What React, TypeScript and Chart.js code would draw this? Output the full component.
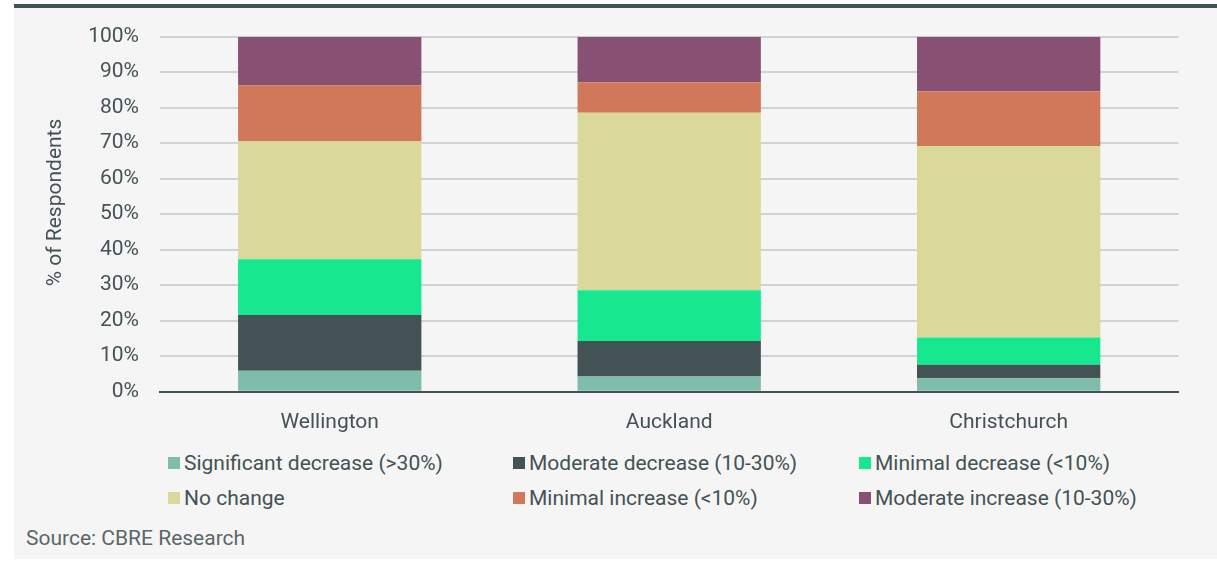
import React, { useEffect, useRef } from "react";
import { Chart, registerables } from "chart.js";

Chart.register(...registerables);

// Survey results: expected change, share of respondents per city (%)
const cities = ["Wellington", "Auckland", "Christchurch"];

const seriesNames = [
  "Significant decrease (>30%)",
  "Moderate decrease (10-30%)",
  "Minimal decrease (<10%)",
  "No change",
  "Minimal increase (<10%)",
  "Moderate increase (10-30%)",
];

const significantDecrease = [5.9, 4.3, 3.8];
const moderateDecrease = [15.7, 10.0, 3.8];
const minimalDecrease = [15.7, 14.3, 7.7];
const noChange = [33.3, 50.0, 53.9];
const minimalIncrease = [15.7, 8.6, 15.4];
const moderateIncrease = [13.7, 12.8, 15.4];

const seriesColors = ["#80bcaa", "#435254", "#17e88f", "#dbd99a", "#d2785a", "#885073"];

const yTickValues = [0, 10, 20, 30, 40, 50, 60, 70, 80, 90, 100];

const yAxisTitle = "% of Respondents";
const sourceNote = "Source: CBRE Research";

const FONT = "Roboto, 'Noto Sans', sans-serif";
const FONT_SIZE = 21;
const TEXT = "#435254";

// Rotated y-axis caption drawn beside the tick labels
const axisCaption = {
  id: "axisCaption",
  afterDraw(chart: Chart) {
    const { ctx } = chart;
    ctx.save();
    ctx.translate(56, 202.5);
    ctx.rotate(-Math.PI / 2);
    ctx.font = `${FONT_SIZE}px ${FONT}`;
    ctx.fillStyle = TEXT;
    ctx.textAlign = "center";
    ctx.textBaseline = "middle";
    ctx.fillText(yAxisTitle, 0, 0);
    ctx.restore();
  },
};

export default function App() {
  const canvasRef = useRef<HTMLCanvasElement | null>(null);

  useEffect(() => {
    if (!canvasRef.current) return;
    const values = [
      significantDecrease,
      moderateDecrease,
      minimalDecrease,
      noChange,
      minimalIncrease,
      moderateIncrease,
    ];
    const chart = new Chart(canvasRef.current, {
      type: "bar",
      data: {
        labels: cities,
        datasets: values.map((data, i) => ({
          label: seriesNames[i],
          data,
          backgroundColor: seriesColors[i],
          borderWidth: 0,
          barPercentage: 0.54,
          categoryPercentage: 1,
        })),
      },
      options: {
        animation: false,
        responsive: false,
        maintainAspectRatio: false,
        layout: { padding: { left: 0, right: 38.6, top: 36.7, bottom: 0 } },
        plugins: {
          legend: { display: false },
          tooltip: { enabled: false },
          title: { display: false },
        },
        scales: {
          x: {
            stacked: true,
            grid: { display: false },
            border: { display: true, color: "#435254", width: 2 },
            ticks: {
              font: { family: FONT, size: FONT_SIZE },
              color: TEXT,
              padding: 10,
            },
            afterFit: (s: any) => {
              s.height = 48.3;
            },
          },
          y: {
            stacked: true,
            min: 0,
            max: 100,
            afterBuildTicks: (s: any) => {
              s.ticks = yTickValues.map((v) => ({ value: v }));
            },
            grid: { color: "#cdd4d5", lineWidth: 2, drawTicks: false },
            border: { display: false },
            ticks: {
              font: { family: FONT, size: FONT_SIZE },
              color: TEXT,
              padding: 21,
              callback: (v: any) => `${v}%`,
            },
            afterFit: (s: any) => {
              s.width = 160;
            },
          },
        },
      },
      plugins: [axisCaption],
    });
    return () => chart.destroy();
  }, []);

  return (
    <div
      style={{
        position: "absolute",
        left: 0,
        top: 0,
        width: 1217,
        height: 562,
        background: "#ffffff",
        overflow: "hidden",
        fontFamily: FONT,
      }}
    >
      <div
        style={{
          position: "absolute",
          left: 14,
          top: 4,
          width: 1203,
          height: 555,
          background: "#f5f5f5",
          borderTop: "4px solid #435254",
          boxSizing: "border-box",
        }}
      />
      <canvas
        ref={canvasRef}
        width={1217}
        height={440}
        style={{ position: "absolute", left: 0, top: 0, width: 1217, height: 440 }}
      />
      <div
        style={{
          position: "absolute",
          left: 168,
          top: 445.5,
          display: "grid",
          gridTemplateColumns: "345px 346px 340px",
          gridAutoRows: "35px",
          fontSize: FONT_SIZE,
          color: TEXT,
        }}
      >
        {seriesNames.map((name, i) => (
          <div key={name} style={{ display: "flex", alignItems: "center", lineHeight: "35px", whiteSpace: "nowrap" }}>
            <span
              style={{
                display: "inline-block",
                width: 12,
                height: 12,
                background: seriesColors[i],
                marginRight: 4,
              }}
            />
            <span>{name}</span>
          </div>
        ))}
      </div>
      <div
        style={{
          position: "absolute",
          left: 26,
          top: 525,
          lineHeight: "26px",
          fontSize: FONT_SIZE,
          color: "#5b6668",
          whiteSpace: "nowrap",
        }}
      >
        {sourceNote}
      </div>
    </div>
  );
}
